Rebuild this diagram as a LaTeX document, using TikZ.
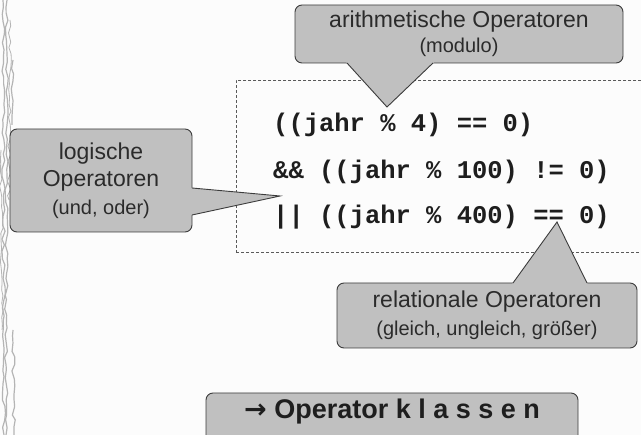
\documentclass[tikz,border=0pt]{standalone}
\usepackage{fontspec}
\setmainfont{Liberation Sans}
\newfontfamily\labelfont{Liberation Sans}
\newfontfamily\codefont{Liberation Mono}
\newfontfamily\arrowfont{DejaVu Sans}
\usetikzlibrary{calc,decorations.pathmorphing}

\definecolor{pagebg}{HTML}{FCFCFC}
\definecolor{bubblefill}{HTML}{C0C0C0}
\definecolor{bubbleline}{HTML}{3C3C3C}
\definecolor{labeltext}{HTML}{2B2B2B}
\definecolor{codetext}{HTML}{1E1E1E}
\definecolor{frameline}{HTML}{5A5A5A}
\definecolor{vinecol}{HTML}{B4B4B4}

\tikzset{
  bubble/.style={draw=bubbleline, fill=bubblefill, rounded corners=7pt,
    line width=0.9pt, text=labeltext, align=center, inner sep=0pt},
  codeline/.style={anchor=base west, inner sep=0pt, text=codetext,
    font=\codefont\bfseries\fontsize{25.5}{30}\selectfont},
  codeframe/.style={draw=frameline, dash pattern=on 3pt off 2pt,
    line width=0.8pt, anchor=north west, inner sep=0pt},
  vine/.style={draw=vinecol, line width=1.2pt,
    decorate, decoration={random steps, segment length=7pt, amplitude=1.6pt}},
}

% pointer of a speech bubble: base point, tip, base point
\newcommand\bubblepointer[3]{%
  \fill[bubblefill] ($(#2)!1.1!(#1)$) -- (#2) -- ($(#2)!1.1!(#3)$) -- cycle;
  \draw[bubbleline, line width=0.9pt, line join=miter] (#1) -- (#2) -- (#3);
}

\begin{document}
\begin{tikzpicture}[x=1pt, y=-1pt]
  \useasboundingbox (0,0) rectangle (641,435);
  \fill[pagebg] (0,0) rectangle (641,435);

  % ornamental stems along the left edge
  \pgfmathsetseed{7}
  \draw[vine] (3,0) -- (4,435);
  \draw[vine] (7,0) -- (6,435);
  \draw[vine, line width=0.8pt] (10,20) -- (9,200);
  \draw[vine] (13,60) -- (12,125);
  \draw[vine] (13,330) -- (14,435);
  \draw[vine, line width=0.8pt] (1,150) -- (2,330);

  % dashed frame round the expression
  \node[codeframe, minimum width=409pt, minimum height=172pt] (codebox) at (236,80) {};

  % the expression
  \node[codeline] (line1) at (273,132) {((jahr \% 4) == 0)};
  \node[codeline] (line2) at (273,178.5) {\&\& ((jahr \% 100) != 0)};
  \node[codeline] (line3) at (273,224) {|| ((jahr \% 400) == 0)};

  % arithmetic operators
  \node[bubble, minimum width=328pt, minimum height=58pt,
        font=\labelfont\fontsize{23}{25}\selectfont] (arith) at (459,34)
    {arithmetische Operatoren\\{\fontsize{20}{25}\selectfont(modulo)}};
  \coordinate (arithtip) at (387,107);
  \coordinate (arithb1) at (347,63);
  \coordinate (arithb2) at (433,63);
  \bubblepointer{arithb1}{arithtip}{arithb2}

  % logical operators
  \node[bubble, minimum width=182pt, minimum height=103pt,
        font=\labelfont\fontsize{23}{27.5}\selectfont] (logic) at (101,180.5)
    {logische\\Operatoren\\{\fontsize{20}{27.5}\selectfont(und, oder)}};
  \coordinate (logictip) at (280,196);
  \coordinate (logicb1) at (192,188);
  \coordinate (logicb2) at (192,215);
  \bubblepointer{logicb1}{logictip}{logicb2}

  % relational operators
  \node[bubble, minimum width=300pt, minimum height=65pt,
        font=\labelfont\fontsize{23}{28}\selectfont] (relat) at (487,315.5)
    {relationale Operatoren\\{\fontsize{20}{28}\selectfont(gleich, ungleich, größer)}};
  \coordinate (relattip) at (557,222);
  \coordinate (relatb1) at (513,283);
  \coordinate (relatb2) at (587,283);
  \bubblepointer{relatb1}{relattip}{relatb2}

  % summary box, running off the lower edge
  \node[bubble, anchor=base, minimum width=372pt, text height=25.7pt,
        text depth=35pt, text=codetext,
        font=\labelfont\bfseries\fontsize{27}{30}\selectfont] (classes) at (392,418.7)
    {{\arrowfont\bfseries →} Operator k l a s s e n};
\end{tikzpicture}
\end{document}
